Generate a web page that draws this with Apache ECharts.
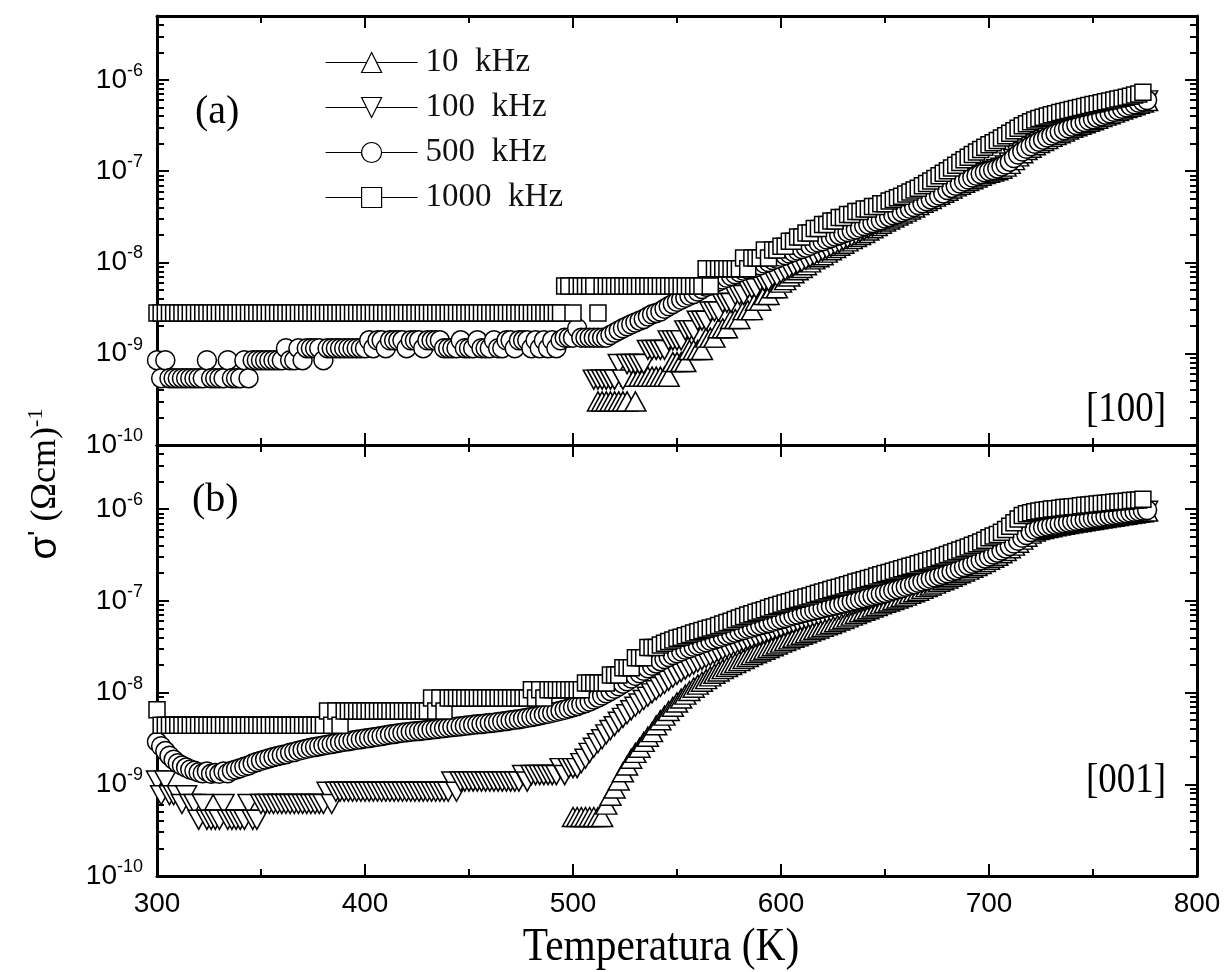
<!DOCTYPE html>
<html><head><meta charset="utf-8">
<script src="https://cdn.jsdelivr.net/npm/echarts@6/dist/echarts.min.js"></script>
<style>html,body{margin:0;padding:0;background:#fff}#c{width:1226px;height:972px}</style>
</head><body><div id="c"></div>
<script>
const _ = null;
const temps = [
300,302,304,306,308,310,312,314,316,318,
320,322,324,326,328,330,332,334,336,338,
340,342,344,346,348,350,352,354,356,358,
360,362,364,366,368,370,372,374,376,378,
380,382,384,386,388,390,392,394,396,398,
400,402,404,406,408,410,412,414,416,418,
420,422,424,426,428,430,432,434,436,438,
440,442,444,446,448,450,452,454,456,458,
460,462,464,466,468,470,472,474,476,478,
480,482,484,486,488,490,492,494,496,498,
500,502,504,506,508,510,512,514,516,518,
520,522,524,526,528,530,532,534,536,538,
540,542,544,546,548,550,552,554,556,558,
560,562,564,566,568,570,572,574,576,578,
580,582,584,586,588,590,592,594,596,598,
600,602,604,606,608,610,612,614,616,618,
620,622,624,626,628,630,632,634,636,638,
640,642,644,646,648,650,652,654,656,658,
660,662,664,666,668,670,672,674,676,678,
680,682,684,686,688,690,692,694,696,698,
700,702,704,706,708,710,712,714,716,718,
720,722,724,726,728,730,732,734,736,738,
740,742,744,746,748,750,752,754,756,758,
760,762,764,766,768,770,772,774,776];

// ---------- panel (a) [100] ----------
const a10 = [
_,_,_,_,_,_,_,_,_,_, _,_,_,_,_,_,_,_,_,_, _,_,_,_,_,_,_,_,_,_, _,_,_,_,_,_,_,_,_,_, _,_,_,_,_,_,_,_,_,_,
_,_,_,_,_,_,_,_,_,_, _,_,_,_,_,_,_,_,_,_, _,_,_,_,_,_,_,_,_,_, _,_,_,_,_,_,_,_,_,_, _,_,_,_,_,_,_,_,_,_,
_,_,_,_,_,_,3e-10,3e-10,3e-10,3e-10,
3e-10,3e-10,3e-10,3e-10,5.6e-10,3e-10,5.6e-10,5.6e-10,5.6e-10,5.6e-10,
5.6e-10,5.6e-10,5.6e-10,5.6e-10,8.1e-10,8.1e-10,8.1e-10,8.1e-10,1.1e-9,1.1e-9,
1.1e-9,1.1e-9,1.5e-9,1.5e-9,1.5e-9,1.9e-9,1.9e-9,1.9e-9,2.4e-9,2.4e-9,
2.4e-9,3.0e-9,3.0e-9,3.0e-9,3.8e-9,3.8e-9,4.4e-9,4.4e-9,5.2e-9,5.2e-9,
6.0e-9,6.4e-9,7.0e-9,7.6e-9,8.2e-9,8.7e-9,9.3e-9,1.0e-8,1.08e-8,1.14e-8,
1.2e-8,1.28e-8,1.36e-8,1.44e-8,1.52e-8,1.6e-8,1.7e-8,1.8e-8,1.9e-8,2.0e-8,
2.1e-8,2.24e-8,2.37e-8,2.5e-8,2.65e-8,2.8e-8,2.95e-8,3.1e-8,3.27e-8,3.43e-8,
3.6e-8,3.8e-8,4.0e-8,4.25e-8,4.5e-8,4.7e-8,4.95e-8,5.25e-8,5.5e-8,5.8e-8,
6.1e-8,6.45e-8,6.8e-8,7.1e-8,7.45e-8,7.8e-8,8.15e-8,8.5e-8,8.9e-8,9.3e-8,
9.6e-8,9.9e-8,1.02e-7,1.06e-7,1.12e-7,1.2e-7,1.32e-7,1.45e-7,1.57e-7,1.7e-7,
1.8e-7,1.92e-7,2.03e-7,2.14e-7,2.25e-7,2.37e-7,2.48e-7,2.6e-7,2.72e-7,2.85e-7,
2.98e-7,3.1e-7,3.22e-7,3.35e-7,3.47e-7,3.6e-7,3.75e-7,3.9e-7,4.05e-7,4.2e-7,
4.37e-7,4.55e-7,4.72e-7,4.9e-7,5.08e-7,5.27e-7,5.45e-7,5.65e-7,5.85e-7];

const a100 = [
_,_,_,_,_,_,_,_,_,_, _,_,_,_,_,_,_,_,_,_, _,_,_,_,_,_,_,_,_,_, _,_,_,_,_,_,_,_,_,_, _,_,_,_,_,_,_,_,_,_,
_,_,_,_,_,_,_,_,_,_, _,_,_,_,_,_,_,_,_,_, _,_,_,_,_,_,_,_,_,_, _,_,_,_,_,_,_,_,_,_, _,_,_,_,_,_,_,_,_,_,
_,_,_,_,_,5.2e-10,5.2e-10,5.2e-10,5.2e-10,5.2e-10,
5.2e-10,7.7e-10,5.2e-10,7.7e-10,7.7e-10,7.7e-10,7.7e-10,7.7e-10,1.1e-9,1.1e-9,
1.1e-9,1.1e-9,1.1e-9,1.4e-9,1.4e-9,1.4e-9,1.4e-9,1.8e-9,1.8e-9,1.8e-9,
2.3e-9,2.3e-9,2.3e-9,2.9e-9,2.9e-9,2.9e-9,3.6e-9,3.6e-9,3.6e-9,4.4e-9,
4.4e-9,4.4e-9,5.2e-9,5.2e-9,5.2e-9,6.2e-9,6.2e-9,6.2e-9,7.0e-9,7.0e-9,
7.6e-9,8.1e-9,8.6e-9,9.1e-9,9.6e-9,1.01e-8,1.07e-8,1.13e-8,1.19e-8,1.26e-8,
1.33e-8,1.4e-8,1.48e-8,1.56e-8,1.64e-8,1.73e-8,1.82e-8,1.92e-8,2.02e-8,2.13e-8,
2.24e-8,2.36e-8,2.48e-8,2.6e-8,2.74e-8,2.88e-8,3.03e-8,3.18e-8,3.34e-8,3.5e-8,
3.68e-8,3.87e-8,4.07e-8,4.3e-8,4.55e-8,4.8e-8,5.05e-8,5.32e-8,5.6e-8,5.9e-8,
6.2e-8,6.55e-8,6.9e-8,7.25e-8,7.6e-8,7.95e-8,8.3e-8,8.7e-8,9.1e-8,9.5e-8,
9.8e-8,1.01e-7,1.05e-7,1.09e-7,1.15e-7,1.24e-7,1.36e-7,1.49e-7,1.61e-7,1.73e-7,
1.84e-7,1.96e-7,2.07e-7,2.18e-7,2.3e-7,2.42e-7,2.53e-7,2.65e-7,2.77e-7,2.9e-7,
3.03e-7,3.15e-7,3.28e-7,3.4e-7,3.53e-7,3.66e-7,3.8e-7,3.95e-7,4.1e-7,4.26e-7,
4.43e-7,4.6e-7,4.78e-7,4.96e-7,5.15e-7,5.34e-7,5.53e-7,5.73e-7,5.95e-7];

const a500 = [
8.5e-10,5.4e-10,8.5e-10,5.4e-10,5.4e-10,5.4e-10,5.4e-10,5.4e-10,5.4e-10,5.4e-10,
5.4e-10,5.4e-10,8.5e-10,5.4e-10,5.4e-10,5.4e-10,5.4e-10,8.5e-10,5.4e-10,5.4e-10,
5.4e-10,8.5e-10,5.4e-10,8.5e-10,8.5e-10,8.5e-10,8.5e-10,8.5e-10,8.5e-10,8.5e-10,
8.5e-10,1.15e-9,8.5e-10,8.5e-10,1.15e-9,8.5e-10,1.15e-9,1.15e-9,1.15e-9,1.15e-9,
8.5e-10,1.15e-9,1.15e-9,1.15e-9,1.15e-9,1.15e-9,1.15e-9,1.15e-9,1.15e-9,1.15e-9,
1.15e-9,1.4e-9,1.15e-9,1.4e-9,1.4e-9,1.15e-9,1.4e-9,1.4e-9,1.4e-9,1.4e-9,
1.15e-9,1.4e-9,1.4e-9,1.4e-9,1.15e-9,1.4e-9,1.4e-9,1.4e-9,1.4e-9,1.15e-9,
1.15e-9,1.15e-9,1.15e-9,1.4e-9,1.15e-9,1.15e-9,1.15e-9,1.4e-9,1.15e-9,1.15e-9,
1.15e-9,1.4e-9,1.15e-9,1.15e-9,1.4e-9,1.4e-9,1.15e-9,1.4e-9,1.4e-9,1.4e-9,
1.15e-9,1.4e-9,1.15e-9,1.4e-9,1.15e-9,1.4e-9,1.15e-9,1.4e-9,1.5e-9,1.5e-9,
1.5e-9,1.9e-9,1.5e-9,1.5e-9,1.5e-9,1.5e-9,1.5e-9,1.5e-9,1.5e-9,1.6e-9,
1.7e-9,1.8e-9,1.9e-9,2.0e-9,2.1e-9,2.2e-9,2.3e-9,2.4e-9,2.55e-9,2.7e-9,
2.8e-9,2.9e-9,3.1e-9,3.3e-9,3.5e-9,3.7e-9,3.9e-9,4.1e-9,4.3e-9,4.5e-9,
4.8e-9,5.1e-9,5.4e-9,5.6e-9,5.9e-9,6.2e-9,6.5e-9,6.8e-9,7.1e-9,7.4e-9,
7.8e-9,8.1e-9,8.4e-9,8.6e-9,8.9e-9,9.3e-9,9.7e-9,1.01e-8,1.06e-8,1.1e-8,
1.15e-8,1.2e-8,1.25e-8,1.3e-8,1.35e-8,1.4e-8,1.45e-8,1.52e-8,1.6e-8,1.65e-8,
1.7e-8,1.78e-8,1.85e-8,1.92e-8,2.0e-8,2.07e-8,2.15e-8,2.22e-8,2.3e-8,2.4e-8,
2.5e-8,2.6e-8,2.7e-8,2.8e-8,2.9e-8,3.02e-8,3.15e-8,3.28e-8,3.4e-8,3.55e-8,
3.7e-8,3.87e-8,4.05e-8,4.25e-8,4.45e-8,4.67e-8,4.9e-8,5.15e-8,5.4e-8,5.7e-8,
6.2e-8,6.55e-8,6.9e-8,7.3e-8,7.7e-8,8.1e-8,8.5e-8,8.9e-8,9.3e-8,9.7e-8,
1.0e-7,1.03e-7,1.07e-7,1.12e-7,1.18e-7,1.27e-7,1.39e-7,1.52e-7,1.64e-7,1.76e-7,
1.87e-7,1.99e-7,2.1e-7,2.21e-7,2.33e-7,2.45e-7,2.57e-7,2.69e-7,2.81e-7,2.94e-7,
3.07e-7,3.2e-7,3.33e-7,3.45e-7,3.58e-7,3.71e-7,3.85e-7,4.0e-7,4.15e-7,4.3e-7,
4.47e-7,4.64e-7,4.82e-7,5.0e-7,5.2e-7,5.4e-7,5.6e-7,5.8e-7,6.0e-7];

const a1000 = [
2.8e-9,2.8e-9,2.8e-9,2.8e-9,2.8e-9,2.8e-9,2.8e-9,2.8e-9,2.8e-9,2.8e-9,
2.8e-9,2.8e-9,2.8e-9,2.8e-9,2.8e-9,2.8e-9,2.8e-9,2.8e-9,2.8e-9,2.8e-9,
2.8e-9,2.8e-9,2.8e-9,2.8e-9,2.8e-9,2.8e-9,2.8e-9,2.8e-9,2.8e-9,2.8e-9,
2.8e-9,2.8e-9,2.8e-9,2.8e-9,2.8e-9,2.8e-9,2.8e-9,2.8e-9,2.8e-9,2.8e-9,
2.8e-9,2.8e-9,2.8e-9,2.8e-9,2.8e-9,2.8e-9,2.8e-9,2.8e-9,2.8e-9,2.8e-9,
2.8e-9,2.8e-9,2.8e-9,2.8e-9,2.8e-9,2.8e-9,2.8e-9,2.8e-9,2.8e-9,2.8e-9,
2.8e-9,2.8e-9,2.8e-9,2.8e-9,2.8e-9,2.8e-9,2.8e-9,2.8e-9,2.8e-9,2.8e-9,
2.8e-9,2.8e-9,2.8e-9,2.8e-9,2.8e-9,2.8e-9,2.8e-9,2.8e-9,2.8e-9,2.8e-9,
2.8e-9,2.8e-9,2.8e-9,2.8e-9,2.8e-9,2.8e-9,2.8e-9,2.8e-9,2.8e-9,2.8e-9,
2.8e-9,2.8e-9,2.8e-9,2.8e-9,2.8e-9,2.8e-9,2.8e-9,2.8e-9,5.5e-9,5.5e-9,
2.8e-9,5.5e-9,5.5e-9,5.5e-9,5.5e-9,5.5e-9,2.8e-9,5.5e-9,5.5e-9,5.5e-9,
5.5e-9,5.5e-9,5.5e-9,5.5e-9,5.5e-9,5.5e-9,5.5e-9,5.5e-9,5.5e-9,5.5e-9,
5.5e-9,5.5e-9,5.5e-9,5.5e-9,5.5e-9,5.5e-9,5.5e-9,5.5e-9,5.5e-9,5.5e-9,
5.5e-9,5.5e-9,8.5e-9,5.5e-9,8.5e-9,8.5e-9,8.5e-9,8.5e-9,8.5e-9,8.5e-9,
8.5e-9,1.12e-8,8.5e-9,1.12e-8,1.12e-8,1.12e-8,1.37e-8,1.12e-8,1.37e-8,1.37e-8,
1.5e-8,1.5e-8,1.7e-8,1.7e-8,1.9e-8,1.9e-8,2.1e-8,2.1e-8,2.35e-8,2.35e-8,
2.6e-8,2.6e-8,2.85e-8,2.85e-8,3.1e-8,3.1e-8,3.35e-8,3.35e-8,3.6e-8,3.6e-8,
3.85e-8,3.85e-8,4.1e-8,4.1e-8,4.4e-8,4.4e-8,4.7e-8,4.9e-8,5.1e-8,5.3e-8,
5.6e-8,5.9e-8,6.2e-8,6.5e-8,6.9e-8,7.3e-8,7.8e-8,8.3e-8,8.9e-8,9.5e-8,
1.01e-7,1.08e-7,1.16e-7,1.24e-7,1.33e-7,1.42e-7,1.52e-7,1.62e-7,1.72e-7,1.83e-7,
1.94e-7,2.05e-7,2.17e-7,2.3e-7,2.44e-7,2.6e-7,2.77e-7,2.95e-7,3.13e-7,3.3e-7,
3.48e-7,3.64e-7,3.78e-7,3.9e-7,4.02e-7,4.14e-7,4.26e-7,4.38e-7,4.5e-7,4.62e-7,
4.74e-7,4.86e-7,4.98e-7,5.1e-7,5.22e-7,5.35e-7,5.48e-7,5.61e-7,5.74e-7,5.87e-7,
6.0e-7,6.15e-7,6.3e-7,6.45e-7,6.6e-7,6.8e-7,7.0e-7,7.3e-7,_];

// ---------- panel (b) [001] ----------
const b10 = [
_,_,_,_,_,_,_,_,_,_, _,_,_,_,_,_,_,_,_,_, _,_,_,_,_,_,_,_,_,_, _,_,_,_,_,_,_,_,_,_, _,_,_,_,_,_,_,_,_,_,
_,_,_,_,_,_,_,_,_,_, _,_,_,_,_,_,_,_,_,_, _,_,_,_,_,_,_,_,_,_, _,_,_,_,_,_,_,_,_,_, _,_,_,_,_,_,_,_,_,_,
4.4e-10,4.4e-10,4.4e-10,4.4e-10,4.4e-10,4.4e-10,4.4e-10,4.4e-10,6.0e-10,7.5e-10,
9e-10,1.1e-9,1.35e-9,1.6e-9,1.9e-9,2.2e-9,2.5e-9,2.9e-9,3.3e-9,3.7e-9,
4.4e-9,5.0e-9,5.6e-9,6.3e-9,7.0e-9,7.8e-9,8.6e-9,9.5e-9,1.04e-8,1.13e-8,
1.22e-8,1.31e-8,1.4e-8,1.5e-8,1.6e-8,1.7e-8,1.8e-8,1.9e-8,2.0e-8,2.1e-8,
2.2e-8,2.32e-8,2.44e-8,2.56e-8,2.68e-8,2.8e-8,2.93e-8,3.06e-8,3.2e-8,3.34e-8,
3.5e-8,3.65e-8,3.8e-8,3.95e-8,4.1e-8,4.27e-8,4.44e-8,4.62e-8,4.8e-8,5.0e-8,
5.2e-8,5.4e-8,5.6e-8,5.85e-8,6.1e-8,6.35e-8,6.6e-8,6.9e-8,7.2e-8,7.5e-8,
7.8e-8,8.1e-8,8.45e-8,8.8e-8,9.15e-8,9.5e-8,9.85e-8,1.02e-7,1.06e-7,1.1e-7,
1.14e-7,1.19e-7,1.24e-7,1.29e-7,1.35e-7,1.41e-7,1.47e-7,1.54e-7,1.61e-7,1.68e-7,
1.75e-7,1.83e-7,1.91e-7,2.0e-7,2.09e-7,2.19e-7,2.29e-7,2.4e-7,2.52e-7,2.65e-7,
2.8e-7,2.95e-7,3.1e-7,3.3e-7,3.5e-7,3.75e-7,4.0e-7,4.3e-7,4.65e-7,5.0e-7,
5.4e-7,5.7e-7,5.9e-7,6.05e-7,6.2e-7,6.35e-7,6.5e-7,6.62e-7,6.75e-7,6.87e-7,
7.0e-7,7.12e-7,7.25e-7,7.37e-7,7.5e-7,7.62e-7,7.75e-7,7.88e-7,8.0e-7,8.13e-7,
8.26e-7,8.4e-7,8.54e-7,8.68e-7,8.82e-7,8.96e-7,9.1e-7,9.25e-7,9.4e-7];

const b100 = [
1.1e-9,7.6e-10,1.1e-9,7.6e-10,7.6e-10,7.6e-10,6.1e-10,7.6e-10,6.1e-10,6.1e-10,
4.1e-10,6.1e-10,4.1e-10,4.1e-10,4.1e-10,4.1e-10,6.1e-10,4.1e-10,4.1e-10,4.1e-10,
4.1e-10,4.1e-10,6.1e-10,4.1e-10,4.1e-10,6.1e-10,6.1e-10,6.1e-10,6.1e-10,6.1e-10,
6.1e-10,6.1e-10,6.1e-10,6.1e-10,6.1e-10,6.1e-10,6.1e-10,6.1e-10,6.1e-10,6.1e-10,
6.1e-10,8.3e-10,6.1e-10,8.3e-10,8.3e-10,8.3e-10,8.3e-10,8.3e-10,8.3e-10,8.3e-10,
8.3e-10,8.3e-10,8.3e-10,8.3e-10,8.3e-10,8.3e-10,8.3e-10,8.3e-10,8.3e-10,8.3e-10,
8.3e-10,8.3e-10,8.3e-10,8.3e-10,8.3e-10,8.3e-10,8.3e-10,8.3e-10,8.3e-10,8.3e-10,
8.3e-10,1.07e-9,8.3e-10,1.07e-9,1.07e-9,1.07e-9,1.07e-9,1.07e-9,1.07e-9,1.07e-9,
1.07e-9,1.07e-9,1.07e-9,1.07e-9,1.07e-9,1.07e-9,1.07e-9,1.07e-9,1.26e-9,1.07e-9,
1.26e-9,1.26e-9,1.26e-9,1.26e-9,1.26e-9,1.26e-9,1.26e-9,1.5e-9,1.26e-9,1.5e-9,
1.5e-9,1.5e-9,1.7e-9,1.9e-9,2.2e-9,2.5e-9,2.8e-9,3.1e-9,3.5e-9,3.9e-9,
4.3e-9,4.8e-9,5.3e-9,5.8e-9,6.4e-9,7.0e-9,7.6e-9,8.3e-9,9.0e-9,9.8e-9,
1.06e-8,1.15e-8,1.24e-8,1.34e-8,1.45e-8,1.56e-8,1.67e-8,1.78e-8,1.9e-8,2.02e-8,
2.14e-8,2.26e-8,2.38e-8,2.5e-8,2.63e-8,2.76e-8,2.9e-8,3.04e-8,3.18e-8,3.32e-8,
3.46e-8,3.6e-8,3.75e-8,3.9e-8,4.05e-8,4.2e-8,4.37e-8,4.55e-8,4.73e-8,4.9e-8,
5.1e-8,5.3e-8,5.5e-8,5.7e-8,5.9e-8,6.1e-8,6.3e-8,6.5e-8,6.7e-8,6.9e-8,
7.1e-8,7.35e-8,7.6e-8,7.85e-8,8.1e-8,8.4e-8,8.7e-8,9.0e-8,9.3e-8,9.6e-8,
9.9e-8,1.02e-7,1.05e-7,1.09e-7,1.13e-7,1.17e-7,1.21e-7,1.25e-7,1.29e-7,1.34e-7,
1.38e-7,1.43e-7,1.48e-7,1.53e-7,1.58e-7,1.64e-7,1.7e-7,1.76e-7,1.82e-7,1.89e-7,
1.96e-7,2.03e-7,2.11e-7,2.19e-7,2.28e-7,2.37e-7,2.47e-7,2.57e-7,2.68e-7,2.8e-7,
2.93e-7,3.07e-7,3.22e-7,3.4e-7,3.6e-7,3.83e-7,4.08e-7,4.37e-7,4.7e-7,5.05e-7,
5.45e-7,5.78e-7,6.0e-7,6.16e-7,6.31e-7,6.46e-7,6.6e-7,6.73e-7,6.86e-7,6.99e-7,
7.12e-7,7.25e-7,7.38e-7,7.51e-7,7.64e-7,7.77e-7,7.9e-7,8.03e-7,8.16e-7,8.3e-7,
8.44e-7,8.58e-7,8.72e-7,8.86e-7,9.0e-7,9.15e-7,9.3e-7,9.45e-7,9.6e-7];

const b500 = [
2.9e-9,2.6e-9,2.3e-9,2.05e-9,1.85e-9,1.7e-9,1.6e-9,1.52e-9,1.45e-9,1.4e-9,
1.35e-9,1.32e-9,1.38e-9,1.3e-9,1.33e-9,1.3e-9,1.38e-9,1.32e-9,1.4e-9,1.45e-9,
1.5e-9,1.55e-9,1.6e-9,1.68e-9,1.75e-9,1.8e-9,1.86e-9,1.92e-9,1.98e-9,2.03e-9,
2.08e-9,2.13e-9,2.2e-9,2.25e-9,2.32e-9,2.38e-9,2.44e-9,2.5e-9,2.55e-9,2.6e-9,
2.65e-9,2.7e-9,2.75e-9,2.8e-9,2.85e-9,2.9e-9,2.95e-9,3.0e-9,3.05e-9,3.1e-9,
3.15e-9,3.2e-9,3.25e-9,3.3e-9,3.36e-9,3.42e-9,3.48e-9,3.54e-9,3.6e-9,3.65e-9,
3.7e-9,3.74e-9,3.78e-9,3.82e-9,3.86e-9,3.9e-9,3.95e-9,4.0e-9,4.05e-9,4.1e-9,
4.15e-9,4.2e-9,4.25e-9,4.3e-9,4.35e-9,4.4e-9,4.45e-9,4.5e-9,4.55e-9,4.6e-9,
4.65e-9,4.7e-9,4.77e-9,4.84e-9,4.91e-9,4.98e-9,5.05e-9,5.13e-9,5.22e-9,5.32e-9,
5.42e-9,5.52e-9,5.63e-9,5.75e-9,5.88e-9,6.02e-9,6.17e-9,6.33e-9,6.5e-9,6.7e-9,
6.9e-9,7.15e-9,7.4e-9,7.7e-9,8.0e-9,8.4e-9,8.8e-9,9.3e-9,9.8e-9,1.04e-8,
1.1e-8,1.17e-8,1.25e-8,1.33e-8,1.42e-8,1.52e-8,1.62e-8,1.73e-8,1.84e-8,1.96e-8,
2.08e-8,2.2e-8,2.32e-8,2.44e-8,2.56e-8,2.68e-8,2.8e-8,2.92e-8,3.04e-8,3.16e-8,
3.28e-8,3.4e-8,3.53e-8,3.66e-8,3.79e-8,3.92e-8,4.06e-8,4.2e-8,4.35e-8,4.5e-8,
4.65e-8,4.8e-8,4.95e-8,5.1e-8,5.26e-8,5.42e-8,5.58e-8,5.75e-8,5.92e-8,6.1e-8,
6.3e-8,6.5e-8,6.7e-8,6.9e-8,7.1e-8,7.3e-8,7.5e-8,7.7e-8,7.9e-8,8.1e-8,
8.3e-8,8.5e-8,8.7e-8,8.9e-8,9.1e-8,9.35e-8,9.6e-8,9.85e-8,1.01e-7,1.04e-7,
1.07e-7,1.1e-7,1.13e-7,1.16e-7,1.19e-7,1.22e-7,1.26e-7,1.3e-7,1.34e-7,1.38e-7,
1.42e-7,1.47e-7,1.52e-7,1.57e-7,1.62e-7,1.68e-7,1.74e-7,1.8e-7,1.86e-7,1.93e-7,
2.0e-7,2.08e-7,2.16e-7,2.25e-7,2.34e-7,2.44e-7,2.54e-7,2.65e-7,2.77e-7,2.9e-7,
3.04e-7,3.19e-7,3.35e-7,3.53e-7,3.73e-7,3.96e-7,4.22e-7,4.52e-7,4.86e-7,5.22e-7,
5.62e-7,5.95e-7,6.17e-7,6.33e-7,6.48e-7,6.63e-7,6.77e-7,6.9e-7,7.03e-7,7.16e-7,
7.29e-7,7.42e-7,7.55e-7,7.68e-7,7.81e-7,7.94e-7,8.07e-7,8.2e-7,8.34e-7,8.48e-7,
8.62e-7,8.76e-7,8.9e-7,9.04e-7,9.18e-7,9.33e-7,9.48e-7,9.63e-7,9.78e-7];

const b1000 = [
6.5e-9,4.4e-9,4.4e-9,4.4e-9,4.4e-9,4.4e-9,4.4e-9,4.4e-9,4.4e-9,4.4e-9,
4.4e-9,4.4e-9,4.4e-9,4.4e-9,4.4e-9,4.4e-9,4.4e-9,4.4e-9,4.4e-9,4.4e-9,
4.4e-9,4.4e-9,4.4e-9,4.4e-9,4.4e-9,4.4e-9,4.4e-9,4.4e-9,4.4e-9,4.4e-9,
4.4e-9,4.4e-9,4.4e-9,4.4e-9,4.4e-9,4.4e-9,4.4e-9,4.4e-9,4.4e-9,4.4e-9,
4.4e-9,6.3e-9,4.4e-9,6.3e-9,4.4e-9,6.3e-9,6.3e-9,6.3e-9,6.3e-9,6.3e-9,
6.3e-9,6.3e-9,6.3e-9,6.3e-9,6.3e-9,6.3e-9,6.3e-9,6.3e-9,6.3e-9,6.3e-9,
6.3e-9,6.3e-9,6.3e-9,6.3e-9,6.3e-9,6.3e-9,8.7e-9,6.3e-9,8.7e-9,6.3e-9,
8.7e-9,8.7e-9,8.7e-9,8.7e-9,8.7e-9,8.7e-9,8.7e-9,8.7e-9,8.7e-9,8.7e-9,
8.7e-9,8.7e-9,8.7e-9,8.7e-9,8.7e-9,8.7e-9,8.7e-9,8.7e-9,8.7e-9,8.7e-9,
1.07e-8,8.7e-9,1.07e-8,8.7e-9,1.07e-8,1.07e-8,1.07e-8,1.07e-8,1.07e-8,1.07e-8,
1.07e-8,1.07e-8,1.07e-8,1.27e-8,1.27e-8,1.27e-8,1.27e-8,1.27e-8,1.27e-8,1.55e-8,
1.55e-8,1.55e-8,1.86e-8,1.86e-8,1.86e-8,2.4e-8,2.4e-8,2.4e-8,3.1e-8,3.1e-8,
3.1e-8,3.3e-8,3.45e-8,3.6e-8,3.75e-8,3.9e-8,4.0e-8,4.15e-8,4.3e-8,4.45e-8,
4.6e-8,4.75e-8,4.9e-8,5.05e-8,5.2e-8,5.4e-8,5.6e-8,5.8e-8,6.0e-8,6.25e-8,
6.5e-8,6.75e-8,7.0e-8,7.25e-8,7.5e-8,7.75e-8,8.0e-8,8.3e-8,8.6e-8,8.9e-8,
9.2e-8,9.5e-8,9.8e-8,1.01e-7,1.04e-7,1.07e-7,1.1e-7,1.13e-7,1.17e-7,1.21e-7,
1.25e-7,1.29e-7,1.33e-7,1.37e-7,1.41e-7,1.45e-7,1.5e-7,1.55e-7,1.6e-7,1.65e-7,
1.7e-7,1.75e-7,1.8e-7,1.86e-7,1.92e-7,1.98e-7,2.04e-7,2.1e-7,2.17e-7,2.24e-7,
2.31e-7,2.38e-7,2.45e-7,2.53e-7,2.61e-7,2.7e-7,2.79e-7,2.88e-7,2.98e-7,3.08e-7,
3.2e-7,3.32e-7,3.45e-7,3.58e-7,3.72e-7,3.87e-7,4.03e-7,4.2e-7,4.38e-7,4.57e-7,
4.87e-7,5.08e-7,5.3e-7,5.6e-7,6.0e-7,6.5e-7,7.1e-7,7.8e-7,8.5e-7,8.9e-7,
9.1e-7,9.35e-7,9.55e-7,9.7e-7,9.85e-7,1.0e-6,1.01e-6,1.02e-6,1.04e-6,1.05e-6,
1.06e-6,1.07e-6,1.09e-6,1.1e-6,1.11e-6,1.12e-6,1.14e-6,1.15e-6,1.16e-6,1.17e-6,
1.19e-6,1.2e-6,1.21e-6,1.22e-6,1.24e-6,1.25e-6,1.26e-6,1.28e-6,_];

const seriesNames = ['10 kHz', '100 kHz', '500 kHz', '1000 kHz'];
const xTickLabels = ['300', '400', '500', '600', '700', '800'];
const yDecades = [1e-10, 1e-9, 1e-8, 1e-7, 1e-6];
const yExponents = ['-10', '-9', '-8', '-7', '-6'];
const panelTags = ['(a)', '(b)'];
const directions = ['[100]', '[001]'];

const SERIF = '"Liberation Serif","Times New Roman",serif';
const SANS = '"Liberation Sans",Arial,sans-serif';

// minor tick positions of the log axis (2..9 x each decade, up to the top 5e-6)
const yMinor = [];
[-10, -9, -8, -7, -6].forEach(e => { for (let k = 2; k <= 9; k++) { const v = k * Math.pow(10, e); if (v < 5e-6) yMinor.push(v); } });

function pts(arr) { return temps.map((t, i) => [t, arr[i]]).filter(p => p[1] != null); }

function xAx(g, pos, labels) {
  return {
    type: 'value', gridIndex: g, position: pos, min: 300, max: 800, interval: 100,
    axisLine: { show: true, onZero: false, lineStyle: { color: '#000', width: 3 } },
    axisTick: { show: true, inside: true, length: 12, lineStyle: { color: '#000', width: 2 } },
    minorTick: { show: true, splitNumber: 2, length: 7, lineStyle: { color: '#000', width: 2 } },
    axisLabel: { show: labels, margin: 14, color: '#000', fontFamily: SANS, fontSize: 28,
      formatter: v => xTickLabels[Math.round((v - 300) / 100)] },
    splitLine: { show: false }, minorSplitLine: { show: false }
  };
}
function yAx(g, pos, major, labels) {
  return {
    type: 'log', logBase: 10, gridIndex: g, position: pos, min: 1e-10, max: 5e-6,
    axisLine: { show: major, onZero: false, lineStyle: { color: '#000', width: 3 } },
    axisTick: { show: true, inside: true, length: major ? 12 : 7, lineStyle: { color: '#000', width: 2 },
      customValues: major ? yDecades : yMinor },
    axisLabel: { show: labels, customValues: yDecades, margin: 14,
      formatter: v => { const i = yDecades.findIndex(d => Math.abs(Math.log10(d) - Math.log10(v)) < 0.01); return '{b|10}{s|' + yExponents[i] + '}'; },
      rich: { b: { fontFamily: SANS, fontSize: 28, lineHeight: 36, color: '#000' },
              s: { fontFamily: SANS, fontSize: 18, lineHeight: 18, verticalAlign: 'top', color: '#000' } } },
    splitLine: { show: false }, minorTick: { show: false }
  };
}

const symbols = [
  { symbol: 'triangle', symbolSize: [21, 19], symbolRotate: 0 },
  { symbol: 'triangle', symbolSize: [21, 19], symbolRotate: 180 },
  { symbol: 'circle', symbolSize: 19, symbolRotate: 0 },
  { symbol: 'rect', symbolSize: 16, symbolRotate: 0 }
];
function mk(name, k, data, g) {
  return Object.assign({
    name, type: 'line', xAxisIndex: g * 2, yAxisIndex: g * 4, data: pts(data),
    showSymbol: true, showAllSymbol: true, clip: true,
    itemStyle: { color: '#fff', borderColor: '#000', borderWidth: 1.5 },
    lineStyle: { width: 0, opacity: 0 },
    emphasis: { disabled: true }, z: 2 + k
  }, symbols[k]);
}

const chart = echarts.init(document.getElementById('c'));
chart.setOption({
  animation: false,
  backgroundColor: '#fff',
  grid: [
    { left: 157, right: 29, top: 16, height: 429 },
    { left: 157, right: 29, top: 445, height: 431 }
  ],
  xAxis: [xAx(0, 'bottom', false), xAx(0, 'top', false), xAx(1, 'bottom', true), xAx(1, 'top', false)],
  yAxis: [yAx(0, 'left', true, true), yAx(0, 'left', false, false), yAx(0, 'right', true, false), yAx(0, 'right', false, false),
          yAx(1, 'left', true, true), yAx(1, 'left', false, false), yAx(1, 'right', true, false), yAx(1, 'right', false, false)],
  legend: {
    data: seriesNames, orient: 'vertical', left: 320, top: 41, itemWidth: 92, itemHeight: 25, itemGap: 12,
    selectedMode: false,
    formatter: n => n.replace(' ', '\u2002'),
    textStyle: { fontFamily: SERIF, fontSize: 33, color: '#111', padding: [0, 0, 0, 3] },
    itemStyle: { borderWidth: 1.2 },
    lineStyle: { color: '#000', width: 1.2, opacity: 1 }
  },
  series: [
    mk(seriesNames[0], 0, a10, 0), mk(seriesNames[1], 1, a100, 0), mk(seriesNames[2], 2, a500, 0), mk(seriesNames[3], 3, a1000, 0),
    mk(seriesNames[0], 0, b10, 1), mk(seriesNames[1], 1, b100, 1), mk(seriesNames[2], 2, b500, 1), mk(seriesNames[3], 3, b1000, 1)
  ],
  graphic: [
    { type: 'text', x: 195, y: 112, style: { text: panelTags[0], fontFamily: SERIF, fontSize: 40, fill: '#000', align: 'left', verticalAlign: 'middle' } },
    { type: 'text', x: 192, y: 500, style: { text: panelTags[1], fontFamily: SERIF, fontSize: 40, fill: '#000', align: 'left', verticalAlign: 'middle' } },
    { type: 'text', x: 1166, y: 410, scaleX: 0.88, style: { text: directions[0], fontFamily: SERIF, fontSize: 42, fill: '#000', align: 'right', verticalAlign: 'middle' } },
    { type: 'text', x: 1166, y: 781, scaleX: 0.88, style: { text: directions[1], fontFamily: SERIF, fontSize: 42, fill: '#000', align: 'right', verticalAlign: 'middle' } },
    { type: 'text', x: 661, y: 948, scaleX: 0.9, style: { text: 'Temperatura (K)', fontFamily: SERIF, fontSize: 46, fill: '#000', align: 'center', verticalAlign: 'middle' } },
    { type: 'text', x: 46, y: 484, rotation: Math.PI / 2,
      style: { text: '{s|σ}{p|\'} {t|(Ωcm)}{e|-1}', fontFamily: SERIF, fontSize: 36, fill: '#000', align: 'center', verticalAlign: 'middle',
        rich: { s: { fontFamily: SANS, fontSize: 38, lineHeight: 42 },
                p: { fontFamily: SANS, fontSize: 28, lineHeight: 28, verticalAlign: 'top' },
                t: { fontFamily: SERIF, fontSize: 36, lineHeight: 42 },
                e: { fontFamily: SERIF, fontSize: 22, lineHeight: 22, verticalAlign: 'top' } } } }
  ]
});
</script>
</body></html>
